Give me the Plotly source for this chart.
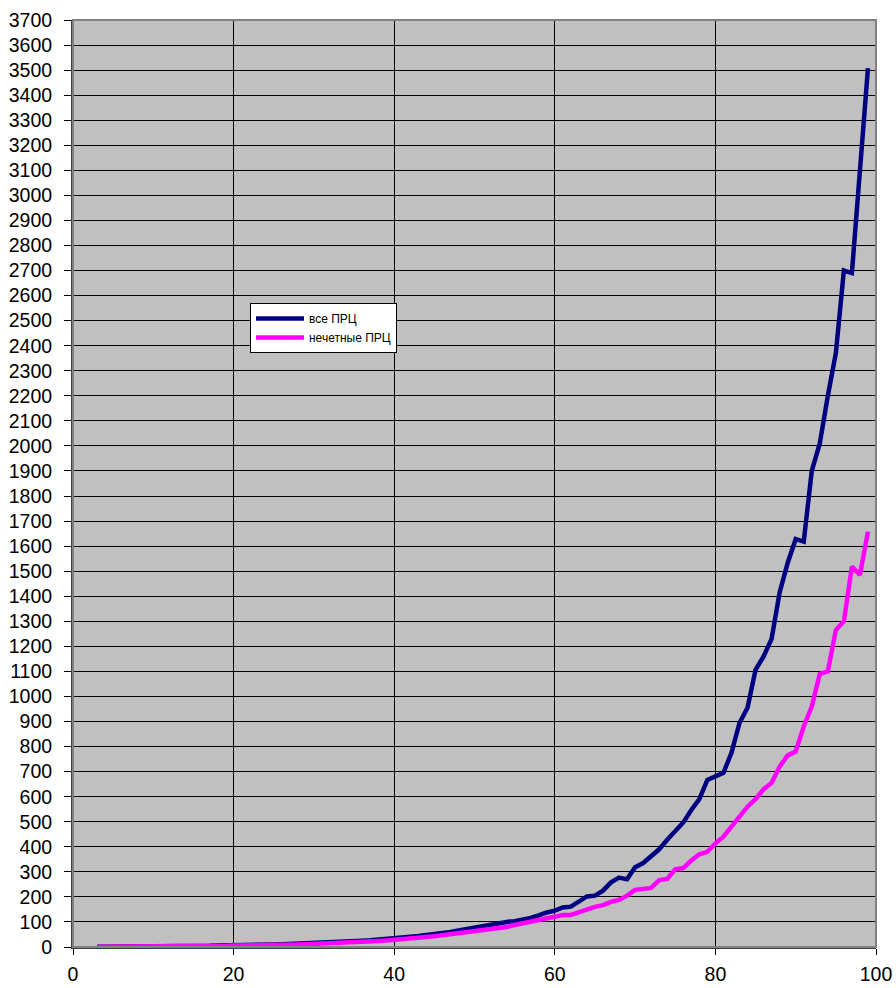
import plotly.graph_objects as go

x_vals = list(range(3, 100))

all_prc = [1, 1, 2, 2, 2, 2, 3, 3, 3, 3, 4, 4, 4, 5, 5, 6, 6, 7, 7, 8,
           9, 9, 10, 11, 12, 13, 14, 15, 17, 18, 19, 21, 23, 25, 27, 29, 32, 35, 38, 41,
           44, 47, 51, 55, 60, 66, 72, 77, 80, 86, 94, 100, 103, 109, 116, 126, 138, 145, 158, 161,
           180, 202, 205, 225, 258, 277, 270, 318, 335, 360, 390, 428, 460, 497, 547, 590, 667, 680, 695, 775,
           894, 955, 1106, 1160, 1230, 1415, 1533, 1628, 1618, 1900, 2010, 2200, 2370, 2700, 2690, 3100, 3508]

odd_prc = [1, 1, 1, 2, 2, 2, 2, 3, 3, 3, 3, 4, 4, 4, 5, 5, 5, 6, 6, 7,
           7, 8, 8, 9, 10, 10, 11, 12, 13, 14, 15, 17, 18, 20, 22, 24, 26, 28, 31, 34,
           37, 40, 43, 47, 51, 55, 60, 65, 69, 73, 77, 80, 88, 94, 100, 106, 113, 118, 128, 128,
           140, 150, 160, 167, 180, 188, 205, 228, 232, 236, 267, 272, 310, 315, 345, 370, 380, 414, 440, 480,
           520, 560, 590, 630, 655, 720, 765, 780, 880, 960, 1090, 1100, 1265, 1300, 1518, 1485, 1658]

series_names = ["все ПРЦ", "нечетные ПРЦ"]
y_ticks = list(range(0, 3701, 100))
x_ticks = [0, 20, 40, 60, 80, 100]

fig = go.Figure()
fig.add_trace(go.Scatter(x=x_vals, y=all_prc, mode="lines", name=series_names[0],
                         line=dict(color="#000080", width=4.5)))
fig.add_trace(go.Scatter(x=x_vals, y=odd_prc, mode="lines", name=series_names[1],
                         line=dict(color="#FF00FF", width=4.5)))

fig.update_layout(
    width=896, height=988,
    margin=dict(l=73, r=20, t=20, b=41, autoexpand=False),
    paper_bgcolor="white",
    plot_bgcolor="#C0C0C0",
    font=dict(family="Liberation Sans, Arial, sans-serif", color="black", size=19.5),
    showlegend=True,
    legend=dict(x=0.2204, y=0.6947, xanchor="left", yanchor="top",
                bgcolor="white", bordercolor="black", borderwidth=1,
                font=dict(size=12, family="Liberation Sans, Arial, sans-serif"),
                itemwidth=48, tracegroupgap=0),
)
fig.update_xaxes(range=[0, 100], tickvals=x_ticks, ticks="outside", ticklen=6,
                 tickcolor="black", showgrid=True, gridcolor="black", gridwidth=1,
                 showline=True, linecolor="#404040", linewidth=2, mirror=False,
                 zeroline=False, ticklabelstandoff=3, fixedrange=True, automargin=False)
fig.update_yaxes(range=[0, 3700], tickvals=y_ticks, ticks="outside", ticklen=7,
                 tickcolor="black", showgrid=True, gridcolor="black", gridwidth=1,
                 showline=True, linecolor="#404040", linewidth=2,
                 zeroline=False, ticklabelstandoff=8, fixedrange=True, automargin=False)
fig.add_shape(type="rect", xref="paper", yref="paper", x0=0, y0=0, x1=1, y1=1,
              line=dict(color="#808080", width=2), fillcolor="rgba(0,0,0,0)", layer="above")

fig.write_html("out.html", config={"displayModeBar": False},
               post_script="document.body.style.margin='0px';")
